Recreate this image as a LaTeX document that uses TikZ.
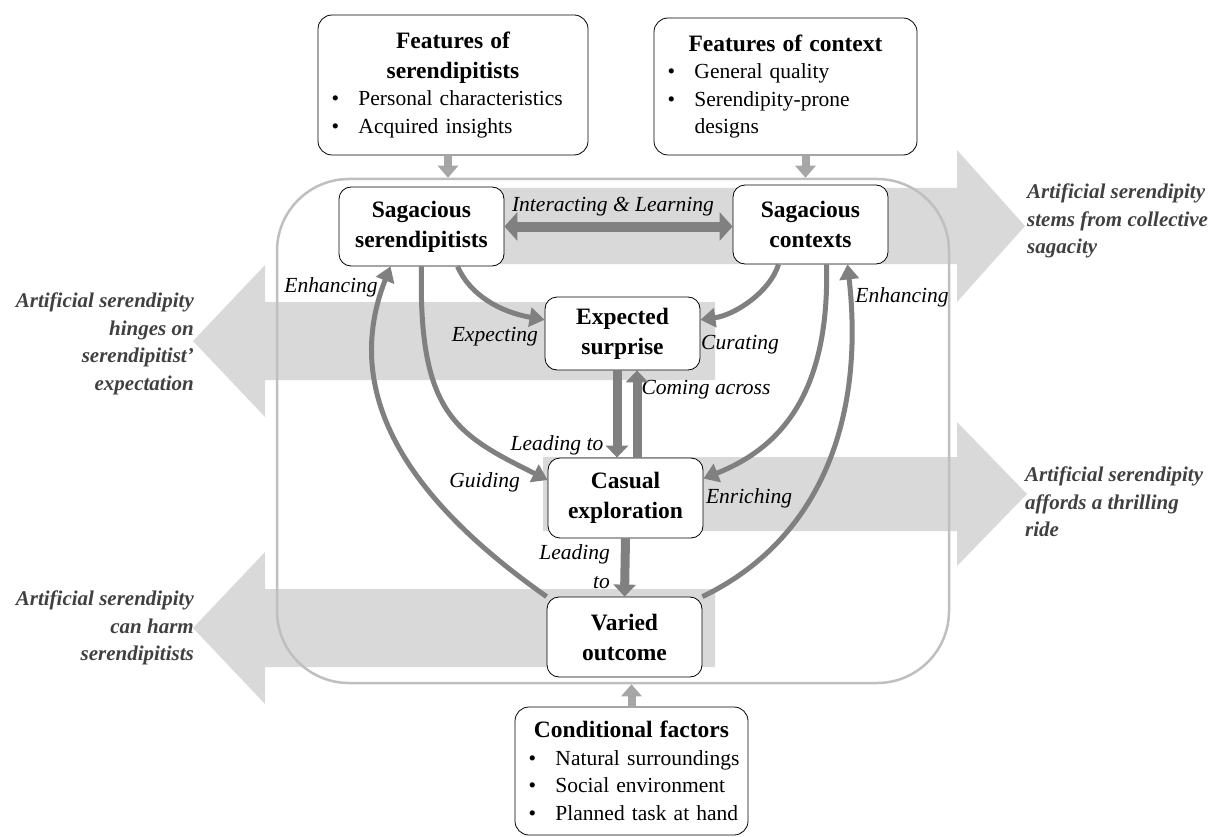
\documentclass[tikz,border=0pt]{standalone}
\usepackage{fontspec}
\setmainfont{Liberation Serif}
\usetikzlibrary{arrows.meta}
\setlength{\parindent}{0pt}

\definecolor{bandgray}{HTML}{D9D9D9}
\definecolor{framegray}{HTML}{BFBFBF}
\definecolor{feedgray}{HTML}{A6A6A6}
\definecolor{linkgray}{HTML}{808080}
\definecolor{notegray}{HTML}{404040}

\newcommand{\titlefont}{\fontsize{23.5}{30}\selectfont\bfseries}
\newcommand{\bodyfont}{\fontsize{21.5}{27.5}\selectfont}
\newcommand{\bul}[1]{\mbox{\makebox[23pt][l]{\hspace*{-4pt}\textbullet}#1}}

\tikzset{
  featurebox/.style={draw, rounded corners=14pt, fill=white, line width=0.8pt,
    inner xsep=17.5pt, inner ysep=0pt, align=left, font=\bodyfont},
  stage/.style={draw, rounded corners=12pt, fill=white, line width=0.8pt,
    align=center, font=\titlefont, minimum width=155pt, minimum height=79pt, inner sep=0pt},
  outerframe/.style={draw=framegray, line width=2.5pt, rounded corners=72pt,
    minimum width=672pt, minimum height=504pt},
  band/.style={fill=bandgray},
  feed/.style={feedgray, line width=8pt, -{Triangle[length=12pt,width=20pt]}},
  link/.style={linkgray, line width=5pt, -{Triangle[length=15pt,width=19pt]}},
  lead/.style={linkgray, line width=9pt, -{Triangle[length=12pt,width=22pt]}},
  verb/.style={font=\fontsize{21.5}{26}\selectfont\itshape, inner sep=0pt},
  claim/.style={font=\fontsize{21}{27.5}\selectfont\bfseries\itshape, text=notegray, inner sep=0pt},
}

\begin{document}
\begin{tikzpicture}[x=1pt, y=-1pt]
  \useasboundingbox (0,0) rectangle (1223,837);

  \fill[band] (400,188) -- (957,188) -- (957,150) -- (1025,226) -- (957,302) -- (957,264) -- (400,264) -- cycle;
  \fill[band] (715,302) -- (265,302) -- (265,265) -- (193,341) -- (265,417) -- (265,380) -- (715,380) -- cycle;
  \fill[band] (543,457) -- (957,457) -- (957,422) -- (1027,494) -- (957,566) -- (957,531) -- (543,531) -- cycle;
  \fill[band] (715,589) -- (265,589) -- (265,552) -- (193,628) -- (265,704) -- (265,667) -- (715,667) -- cycle;

  \node[outerframe] (outer) at (613,431) {};

  \node[stage, minimum width=165pt] (ss) at (421.5,226.5) {Sagacious\\serendipitists};
  \node[stage] (sc) at (810.5,224.5) {Sagacious\\contexts};
  \node[stage, minimum height=73pt] (es) at (622.5,333.5) {Expected\\surprise};
  \node[stage, minimum height=80pt] (ce) at (625.5,498) {Casual\\exploration};
  \node[stage, minimum height=80pt] (vo) at (624.5,637) {Varied\\outcome};

  \node[featurebox, text width=235pt, minimum height=140pt] (fs) at (453,85)
    {\centering{\titlefont Features of\par serendipitists\par}\raggedright
     \bul{Personal characteristics}\par\bul{Acquired insights}};
  \node[featurebox, text width=228pt, minimum height=137pt] (fc) at (785.5,86.5)
    {\centering{\titlefont Features of context\par}\raggedright
     \bul{General quality}\par\bul{Serendipity-prone}\par\hspace*{23pt}designs};
  \node[featurebox, text width=198pt, minimum height=128pt] (cf) at (631.5,771)
    {\centering{\titlefont Conditional factors\par}\raggedright
     \bul{Natural surroundings}\par\bul{Social environment}\par\bul{Planned task at hand}};

  \node[claim, anchor=west, align=left] (stems) at (1027,221) {Artificial serendipity\\stems from collective\\sagacity};
  \node[claim, anchor=west, align=left] (thrill) at (1025,502) {Artificial serendipity\\affords a thrilling\\ride};
  \node[claim, anchor=east, align=right] (hinge) at (194,344) {Artificial serendipity\\hinges on\\serendipitist’\\expectation};
  \node[claim, anchor=east, align=right] (harm) at (194,628) {Artificial serendipity\\can harm\\serendipitists};

  \node[verb] (interact) at (613,207) {Interacting \& Learning};
  \node[verb] (enhleft) at (331,287) {Enhancing};
  \node[verb, anchor=east] (expect) at (538,337) {Expecting};
  \node[verb, anchor=east] (guide) at (520,482) {Guiding};
  \node[verb] (leadone) at (557,445) {Leading to};
  \node[verb] (come) at (706,390) {Coming across};
  \node[verb] (curate) at (740,345) {Curating};
  \node[verb] (enhright) at (902,297) {Enhancing};
  \node[verb] (enrich) at (749,498) {Enriching};
  \node[verb, anchor=east, align=right] (leadtwo) at (610,567) {Leading\\[3pt]to};

  \draw[feed] ([xshift=-5pt]fs.south) -- ([xshift=-5pt]fs.south |- outer.north);
  \draw[feed] ([xshift=20pt]fc.south) -- ([xshift=20pt]fc.south |- outer.north);
  \draw[feed] (cf.north) -- (cf.north |- outer.south);

  \draw[linkgray, line width=10pt, {Triangle[length=13pt,width=28pt]}-{Triangle[length=13pt,width=28pt]}]
    (ss.east) -- (ss.east -| sc.west);

  \draw[link] (vo.north west) .. controls (425,511) and (336,405) .. ([xshift=-31pt]ss.south);
  \draw[link] (ss.south) .. controls (418,416) and (458,435) .. (ce.167);
  \draw[link] ([xshift=36pt]ss.south) .. controls (470,295) and (500,312) .. (es.170);
  \draw[link] ([xshift=-32pt]sc.south) .. controls (770,292) and (735,315) .. (es.10);
  \draw[link] ([xshift=16pt]sc.south) .. controls (830,400) and (775,450) .. (ce.14);
  \draw[link] (vo.north east) .. controls (820,540) and (865,420) .. ([xshift=37pt]sc.south);

  \draw[lead] ([xshift=-5.5pt]es.south) -- ([xshift=-5.5pt]es.south |- ce.north);
  \draw[lead] ([xshift=11.5pt]ce.north) -- ([xshift=11.5pt]ce.north |- es.south);
  \draw[lead] (ce.south) -- (vo.north);
\end{tikzpicture}
\end{document}
